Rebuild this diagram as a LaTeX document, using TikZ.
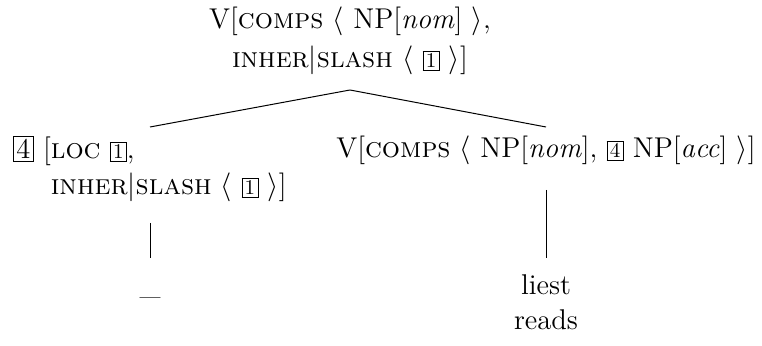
\documentclass[tikz,border=0pt]{standalone}
\usepackage{fontspec}
\newcommand{\tg}[1]{{\setlength{\fboxsep}{1.2pt}\setlength{\fboxrule}{0.4pt}\fbox{\fontsize{10.5pt}{11pt}\selectfont #1}}}
\newcommand{\tgb}[1]{{\setlength{\fboxsep}{1.2pt}\setlength{\fboxrule}{0.4pt}\fbox{#1}}}
\begin{document}
\begin{tikzpicture}[x=0.5pt,y=-0.5pt,
  tnode/.style={inner sep=0pt, outer sep=0pt, anchor=base, font=\fontsize{14.3pt}{18pt}\selectfont},
  edge/.style={line width=0.5pt}]
\useasboundingbox (0,0) rectangle (762,346);
\node[tnode, text height=10pt, text depth=30.5pt] (root) at (350,29)
  {\begin{tabular}[t]{@{}c@{}}V[\textsc{comps} $\langle$ NP[\textit{nom}] $\rangle$,\\[1.5pt]
   \textsc{inher}$|$\textsc{slash} $\langle$ \tg{1} $\rangle$]\end{tabular}};
\node[tnode, text height=16pt, text depth=32pt] (ld) at (150,159)
  {\tgb{4} $\big[$\begin{tabular}[t]{@{}l@{}}\textsc{loc} \tg{1},\\
   \textsc{inher}$|$\textsc{slash} $\langle$ \tg{1} $\rangle$]\end{tabular}};
\node[tnode, text height=15.5pt, text depth=16pt] (rd) at (546,158)
  {V[\textsc{comps} $\langle$ NP[\textit{nom}], \tg{4} NP[\textit{acc}] $\rangle$]};
\node[tnode, text height=18.5pt] (gap) at (150,295) {\_};
\node[tnode, text height=18.5pt] (leaf) at (546,295)
  {\begin{tabular}[t]{@{}c@{}}liest\\[-0.5pt] reads\end{tabular}};
\draw[edge] (root.south) -- (ld.north);
\draw[edge] (root.south) -- (rd.north);
\draw[edge] (ld.south) -- (gap.north);
\draw[edge] (rd.south) -- (leaf.north);
\end{tikzpicture}
\end{document}
